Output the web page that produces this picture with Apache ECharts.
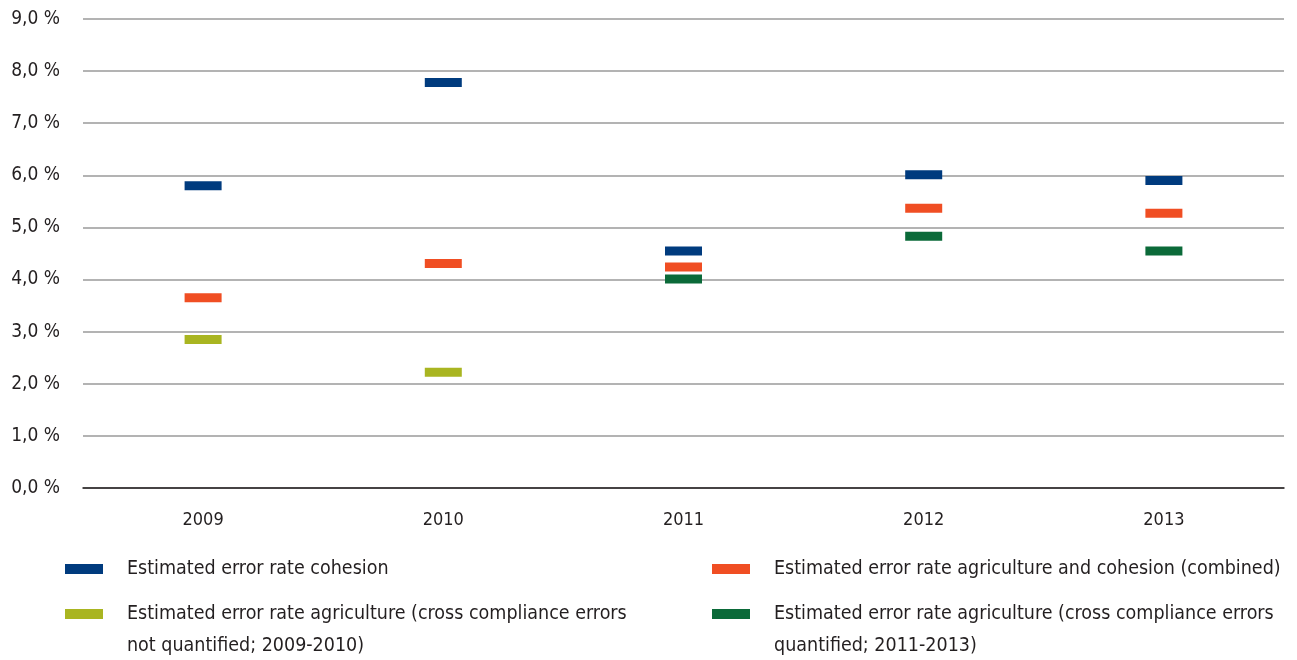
<!DOCTYPE html>
<html>
<head>
<meta charset="utf-8">
<script src="https://cdn.jsdelivr.net/npm/echarts@6/dist/echarts.min.js"></script>
<style>
  html, body { margin: 0; padding: 0; background: #fff; }
  #chart { width: 1297px; height: 660px; }
</style>
</head>
<body>
<div id="chart"></div>
<script>
const years = ["2009", "2010", "2011", "2012", "2013"];
const cohesion = [5.8, 7.78, 4.55, 6.01, 5.9];
const combined = [3.65, 4.31, 4.24, 5.37, 5.27];
const agriNotQuantified = [2.85, 2.22, null, null, null];
const agriQuantified = [null, null, 4.01, 4.83, 4.55];

const names = [
  "Estimated error rate cohesion",
  "Estimated error rate agriculture and cohesion (combined)",
  "Estimated error rate agriculture (cross compliance errors not quantified; 2009-2010)",
  "Estimated error rate agriculture (cross compliance errors quantified; 2011-2013)",
];
const colors = ["#003b7e", "#f04e23", "#a9b521", "#0b6a39"];
const FONT = '"Liberation Sans Narrow", "DejaVu Sans Condensed", sans-serif';
const TXT = "#231f20";

const chart = echarts.init(document.getElementById("chart"));

function makeSeries(i, values) {
  return {
    name: names[i],
    type: "scatter",
    symbol: "rect",
    symbolSize: [37, 9],
    itemStyle: { color: colors[i], opacity: 1 },
    data: values,
    emphasis: { disabled: true },
  };
}

// one entry per legend so the two-column layout can be placed freely;
// a leading blank line keeps the icon level with the first text line
function makeLegend(i, left, top, lines) {
  return {
    data: [names[i]],
    left: left,
    top: top,
    padding: 0,
    icon: "rect",
    itemWidth: 38,
    itemHeight: 10,
    selectedMode: false,
    formatter: lines ? () => "\n" + lines.join("\n") : undefined,
    textStyle: {
      fontFamily: FONT,
      fontSize: 19.5,
      color: TXT,
      lineHeight: 32,
      padding: [0, 0, 0, 19],
    },
  };
}

chart.setOption({
  animation: false,
  grid: { left: 83, right: 13, top: 19, bottom: 172 },
  xAxis: {
    type: "category",
    data: years,
    axisTick: { show: false },
    axisLine: { lineStyle: { color: "#231f20", width: 1.5 } },
    axisLabel: { fontFamily: FONT, fontSize: 18, color: TXT, margin: 23 },
  },
  yAxis: {
    type: "value",
    min: 0,
    max: 9,
    interval: 1,
    axisLine: { show: false },
    axisTick: { show: false },
    splitLine: { lineStyle: { color: "#9a9a9a", width: 1.5 } },
    axisLabel: {
      fontFamily: FONT,
      fontSize: 19,
      color: TXT,
      margin: 23,
      formatter: (v) => v.toFixed(1).replace(".", ",") + " %",
    },
  },
  legend: [
    makeLegend(0, 65, 553),
    makeLegend(1, 712, 553),
    makeLegend(2, 65, 566, [
      "Estimated error rate agriculture (cross compliance errors",
      "not quantified; 2009-2010)",
    ]),
    makeLegend(3, 712, 566, [
      "Estimated error rate agriculture (cross compliance errors",
      "quantified; 2011-2013)",
    ]),
  ],
  series: [
    makeSeries(0, cohesion),
    makeSeries(1, combined),
    makeSeries(2, agriNotQuantified),
    makeSeries(3, agriQuantified),
  ],
});
</script>
</body>
</html>
